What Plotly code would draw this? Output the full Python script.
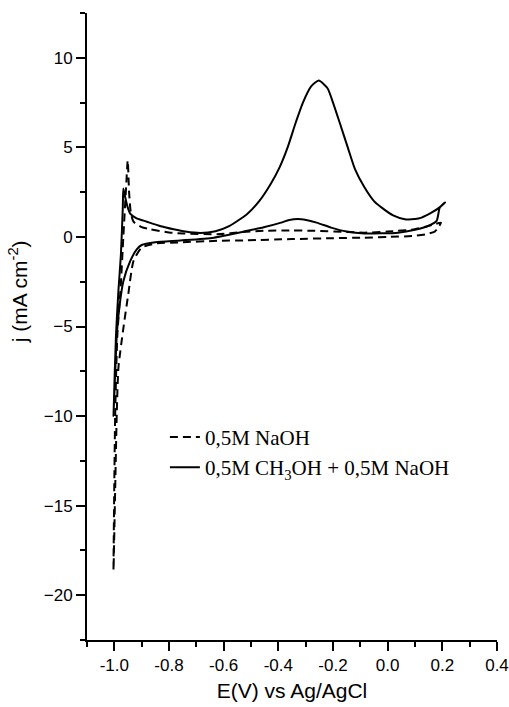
import plotly.graph_objects as go

# NaOH only (dashed): anodic then cathodic scan
naoh_x = [-1.003, -0.997, -0.989, -0.977, -0.967, -0.957, -0.951, -0.946, -0.940, -0.930, -0.900, -0.869,
          -0.800, -0.745, -0.624, -0.550, -0.452, -0.350, -0.268, -0.150, -0.085, 0.000, 0.099, 0.173, 0.195,
          0.185, 0.172, 0.140, 0.099, 0.000, -0.085, -0.200, -0.350, -0.513, -0.624, -0.758, -0.850,
          -0.900, -0.930, -0.949, -0.967, -0.985, -0.991, -1.003]
naoh_y = [-18.6, -10.0, -5.5, -2.85, 0.0, 2.77, 4.27, 2.5, 1.4, 0.85, 0.55, 0.43,
          0.25, 0.19, 0.15, 0.25, 0.34, 0.36, 0.34, 0.28, 0.24, 0.30, 0.43, 0.71, 0.80,
          0.52, 0.30, 0.15, 0.06, 0.0, -0.04, -0.07, -0.12, -0.19, -0.22, -0.30, -0.37,
          -0.60, -1.35, -3.2, -5.1, -7.3, -9.8, -18.6]

# Methanol + NaOH (solid): anodic then cathodic scan
meoh_x = [-1.003, -0.994, -0.985, -0.976, -0.969, -0.967, -0.960, -0.952, -0.942, -0.920, -0.881, -0.830,
          -0.783, -0.740, -0.685, -0.630, -0.580, -0.513, -0.470, -0.428, -0.395, -0.366, -0.336, -0.310,
          -0.280, -0.252, -0.220, -0.200, -0.176, -0.146, -0.120, -0.085, -0.050, -0.023, 0.020, 0.0625,
          0.100, 0.124, 0.160, 0.190, 0.210,
          0.191, 0.179, 0.149, 0.100, 0.038, -0.085, -0.150, -0.207, -0.260, -0.317, -0.360, -0.390,
          -0.450, -0.513, -0.636, -0.758, -0.850, -0.900, -0.918, -0.942, -0.967, -0.982, -0.991, -1.003]
meoh_y = [-10.0, -5.5, -3.0, -1.0, 1.65, 2.7, 2.2, 1.7, 1.3, 1.05, 0.85, 0.6,
          0.43, 0.3, 0.22, 0.32, 0.6, 1.3, 2.0, 2.96, 3.9, 5.0, 6.4, 7.5,
          8.4, 8.73, 8.3, 7.5, 6.4, 5.0, 3.8, 2.77, 2.0, 1.65, 1.2, 0.99,
          1.0, 1.08, 1.35, 1.65, 1.93,
          1.65, 0.9, 0.62, 0.4, 0.24, 0.19, 0.3, 0.52, 0.8, 0.99, 0.95, 0.8,
          0.55, 0.34, -0.04, -0.2, -0.3, -0.45, -0.7, -1.35, -2.47, -3.97, -5.47, -10.0]

series_names = ["0,5M NaOH", "0,5M CH<sub>3</sub>OH + 0,5M NaOH"]

x_ticks = [-1.0, -0.8, -0.6, -0.4, -0.2, 0.0, 0.2, 0.4]
x_ticklabels = ["-1.0", "-0.8", "-0.6", "-0.4", "-0.2", "0.0", "0.2", "0.4"]
y_ticks = [-20, -15, -10, -5, 0, 5, 10]

fig = go.Figure()
fig.add_trace(go.Scatter(x=naoh_x, y=naoh_y, mode="lines", name=series_names[0],
                         line=dict(color="black", width=2, dash="8px,5px", shape="spline", smoothing=0.6)))
fig.add_trace(go.Scatter(x=meoh_x, y=meoh_y, mode="lines", name=series_names[1],
                         line=dict(color="black", width=2, shape="spline", smoothing=0.6)))

sans = "Liberation Sans, Arial"
tick_font = dict(family=sans, size=17, color="black")
fig.update_layout(
    width=509, height=707,
    margin=dict(l=87, r=12, t=13, b=67, autoexpand=False),
    plot_bgcolor="white", paper_bgcolor="white",
    showlegend=True,
    legend=dict(x=0.19, y=0.356, xanchor="left", yanchor="top", bgcolor="rgba(0,0,0,0)",
                font=dict(family="Liberation Serif, Times New Roman", size=21, color="black"),
                itemwidth=30, tracegroupgap=0),
    xaxis=dict(range=[-1.1, 0.4], tickvals=x_ticks, ticktext=x_ticklabels, automargin=False,
               showline=True, linecolor="black", linewidth=2, showgrid=False, zeroline=False,
               ticks="outside", ticklen=9, tickwidth=2, tickcolor="black", tickfont=tick_font,
               minor=dict(dtick=0.1, tick0=-1.1, ticks="outside", ticklen=5, tickwidth=2, tickcolor="black"),
               title=dict(text="E(V) vs Ag/AgCl", font=dict(family=sans, size=21, color="black"),
                          standoff=9)),
    yaxis=dict(range=[-22.5, 12.5], tickvals=y_ticks, automargin=False,
               showline=True, linecolor="black", linewidth=2, showgrid=False, zeroline=False,
               ticks="outside", ticklen=9, tickwidth=2, tickcolor="black", tickfont=tick_font,
               minor=dict(dtick=2.5, tick0=0, ticks="outside", ticklen=5, tickwidth=2, tickcolor="black")),
    annotations=[dict(text="j (mA cm<sup>-2</sup>)", textangle=-90, xref="paper", yref="paper",
                      x=-0.168, y=0.555, xanchor="center", yanchor="middle", showarrow=False,
                      font=dict(family=sans, size=21, color="black"))],
)

fig.write_html("out.html", config={"displayModeBar": False},
               post_script="document.body.style.margin='0';document.body.style.overflow='hidden';")
